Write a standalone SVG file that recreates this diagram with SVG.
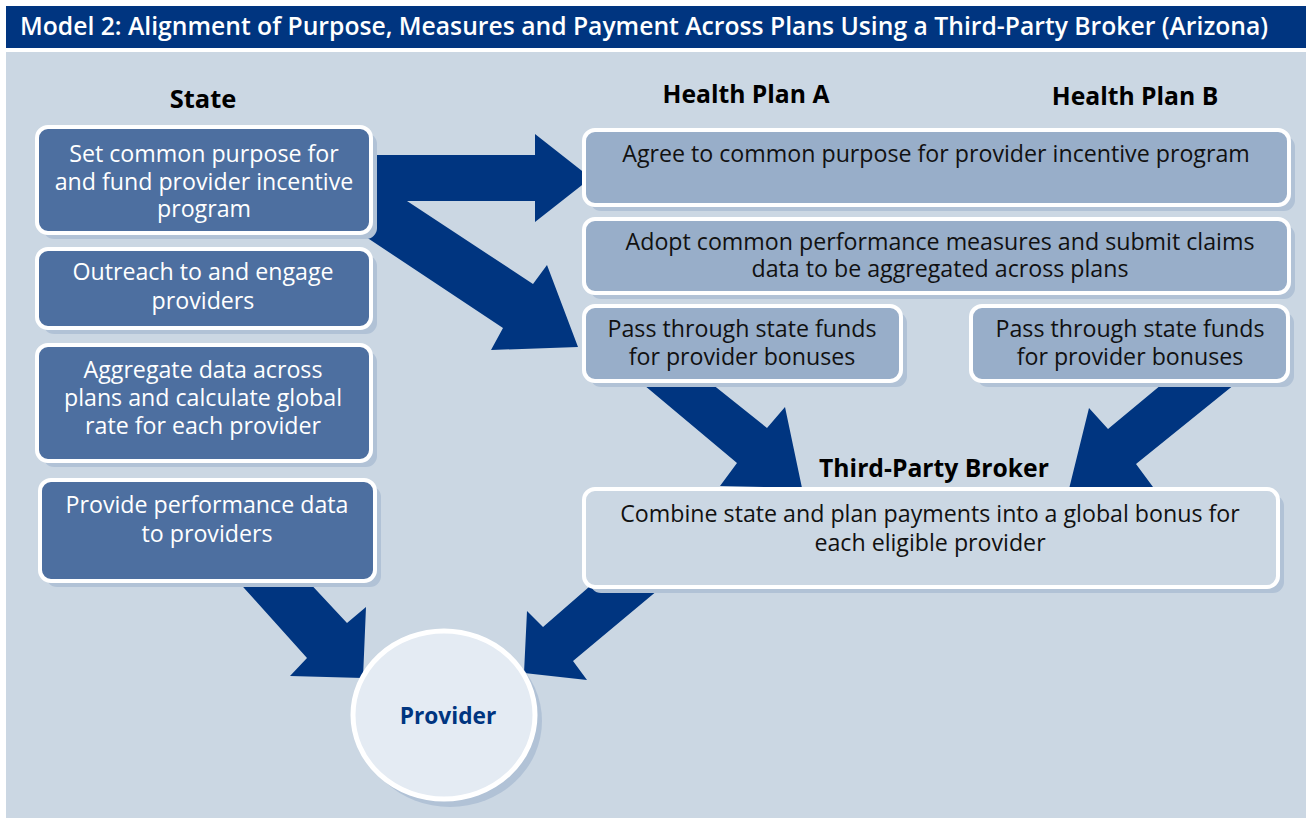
<svg xmlns="http://www.w3.org/2000/svg" width="1314" height="822" viewBox="0 0 1314 822">
<style>
.title{font-family:"Open Sans","Liberation Sans",sans-serif;font-weight:600;font-size:24.7px;fill:#fff}
.hdr{font-family:"Open Sans","Liberation Sans",sans-serif;font-weight:700;font-size:24.7px;fill:#000}
.t{font-family:"Open Sans","Liberation Sans",sans-serif;font-size:23.2px;text-anchor:middle}
.w{fill:#fff}
.k{fill:#111}
.dark{fill:#4D6FA0;stroke:#fff;stroke-width:4}
.light{fill:#98AEC9;stroke:#fff;stroke-width:4}
.pale{fill:#CBD7E3;stroke:#fff;stroke-width:4}
.sh{fill:#B1C2D6}
.arrow{fill:#003580}
</style>
<rect x="0" y="0" width="1314" height="822" fill="#fff"/>
<rect x="6" y="6" width="1300" height="42" fill="#003580"/>
<text class="title" x="20" y="35">Model 2: Alignment of Purpose, Measures and Payment Across Plans Using a Third-Party Broker (Arizona)</text>
<rect x="6" y="52" width="1300" height="766" fill="#CBD7E3"/>

<g id="headers">
<text class="hdr" x="203" y="108" text-anchor="middle" style="font-size:25.5px">State</text>
<text class="hdr" x="746" y="103" text-anchor="middle">Health Plan A</text>
<text class="hdr" x="1135" y="105" text-anchor="middle">Health Plan B</text>
</g>

<g id="connectors">
<path class="arrow" d="M360,155 L535,155 L535,134 L591,178 L535,222 L535,201 L407,201 L533,284 L547,265 L578,347 L491,350 L503,328 L360,233 Z"/>
<path class="arrow" d="M638,380 L737,463 L720,486 L802,488 L785,407 L767,428 L707,380 Z"/>
<path class="arrow" d="M1167,380 L1240,380 L1136,464 L1153,487 L1069,489 L1089,408 L1108,429 Z"/>
<path class="arrow" d="M235,578 L305,578 L347,623 L366,607 L363,678 L290,676 L307,658 Z"/>
<path class="arrow" d="M597,580 L664,585 L573,661 L587,680 L524,673 L527,611 L543,627 Z"/>
</g>

<g id="state1">
<rect class="sh" x="43" y="133" width="334" height="106" rx="11"/>
<rect class="dark" x="37" y="127" width="334" height="106" rx="11"/>
<text class="t w" x="204" y="162">Set common purpose for</text>
<text class="t w" x="204" y="190">and fund provider incentive</text>
<text class="t w" x="204" y="217">program</text>
</g>
<g id="state2">
<rect class="sh" x="43" y="255" width="334" height="79" rx="11"/>
<rect class="dark" x="37" y="249" width="334" height="79" rx="11"/>
<text class="t w" x="203" y="280">Outreach to and engage</text>
<text class="t w" x="203" y="309">providers</text>
</g>
<g id="state3">
<rect class="sh" x="43" y="351" width="334" height="116" rx="11"/>
<rect class="dark" x="37" y="345" width="334" height="116" rx="11"/>
<text class="t w" x="203" y="378">Aggregate data across</text>
<text class="t w" x="203" y="406">plans and calculate global</text>
<text class="t w" x="203" y="434">rate for each provider</text>
</g>
<g id="state4">
<rect class="sh" x="46" y="486" width="335" height="101" rx="11"/>
<rect class="dark" x="40" y="480" width="335" height="101" rx="11"/>
<text class="t w" x="207" y="513">Provide performance data</text>
<text class="t w" x="207" y="542">to providers</text>
</g>

<g id="planA1">
<rect class="sh" x="590" y="136" width="705" height="75" rx="11"/>
<rect class="light" x="584" y="130" width="705" height="75" rx="11"/>
<text class="t k" x="936" y="162">Agree to common purpose for provider incentive program</text>
</g>
<g id="planA2">
<rect class="sh" x="590" y="225" width="705" height="74" rx="11"/>
<rect class="light" x="584" y="219" width="705" height="74" rx="11"/>
<text class="t k" x="940" y="250">Adopt common performance measures and submit claims</text>
<text class="t k" x="940" y="277">data to be aggregated across plans</text>
</g>
<g id="passA">
<rect class="sh" x="590" y="312" width="317" height="75" rx="11"/>
<rect class="light" x="584" y="306" width="317" height="75" rx="11"/>
<text class="t k" x="742" y="337">Pass through state funds</text>
<text class="t k" x="742" y="365">for provider bonuses</text>
</g>
<g id="passB">
<rect class="sh" x="977" y="312" width="317" height="75" rx="11"/>
<rect class="light" x="971" y="306" width="317" height="75" rx="11"/>
<text class="t k" x="1130" y="337">Pass through state funds</text>
<text class="t k" x="1130" y="365">for provider bonuses</text>
</g>

<g id="broker">
<text class="hdr" x="934" y="477" text-anchor="middle">Third-Party Broker</text>
<rect class="sh" x="590" y="495" width="694" height="98" rx="11"/>
<rect class="pale" x="584" y="489" width="694" height="98" rx="11"/>
<text class="t k" x="930" y="522">Combine state and plan payments into a global bonus for</text>
<text class="t k" x="930" y="551">each eligible provider</text>
</g>

<g id="provider">
<ellipse cx="450" cy="721" rx="92" ry="86" fill="#B1C2D6"/>
<ellipse cx="444" cy="715" rx="91" ry="84" fill="#E4EBF3" stroke="#fff" stroke-width="5"/>
<text x="448" y="724" text-anchor="middle" style="font-family:'Open Sans','Liberation Sans',sans-serif;font-weight:700;font-size:22.7px;fill:#003580">Provider</text>
</g>
</svg>
